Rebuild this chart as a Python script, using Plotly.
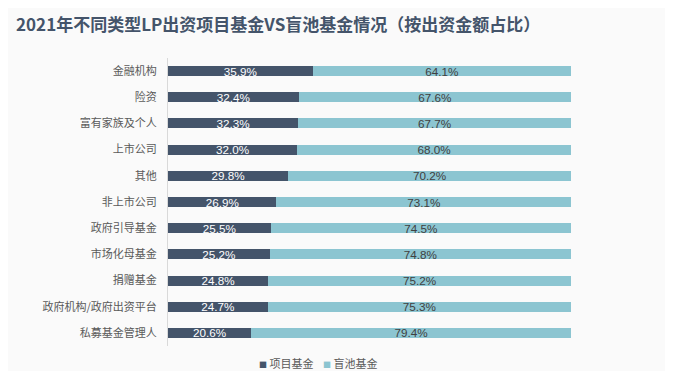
import plotly.graph_objects as go

categories = ["金融机构", "险资", "富有家族及个人", "上市公司", "其他", "非上市公司",
              "政府引导基金", "市场化母基金", "捐赠基金", "政府机构/政府出资平台", "私募基金管理人"]
project_fund = [35.9, 32.4, 32.3, 32.0, 29.8, 26.9, 25.5, 25.2, 24.8, 24.7, 20.6]
blind_pool = [64.1, 67.6, 67.7, 68.0, 70.2, 73.1, 74.5, 74.8, 75.2, 75.3, 79.4]
series_names = ["项目基金", "盲池基金"]
series_colors = ["#44546A", "#8CC5D1"]

FONT = "Noto Sans CJK SC"

fig = go.Figure()
fig.add_trace(go.Bar(
    y=categories, x=project_fund, orientation="h", name=series_names[0],
    marker=dict(color=series_colors[0], line=dict(width=0)),
    text=[f"{v:.1f}%" for v in project_fund], textposition="inside",
    insidetextanchor="middle", constraintext="none",
    textfont=dict(color="#FFFFFF", size=11.7, family="Arial"),
))
fig.add_trace(go.Bar(
    y=categories, x=blind_pool, orientation="h", name=series_names[1],
    marker=dict(color=series_colors[1], line=dict(width=0)),
    text=[f"{v:.1f}%" for v in blind_pool], textposition="inside",
    insidetextanchor="middle", constraintext="none",
    textfont=dict(color="#404040", size=11.7, family="Arial"),
))

# legend drawn as annotations to match compact reference legend
for name, color, xpos in zip(series_names, series_colors, [0.221, 0.38]):
    fig.add_annotation(
        xref="paper", yref="paper", x=xpos, y=-0.059, xanchor="left", yanchor="middle",
        showarrow=False,
        text=f"<span style='font-size:8px;color:{color}'>■</span> {name}",
        font=dict(family=FONT, size=11, color="#595959"),
    )

fig.update_layout(
    barmode="stack", bargap=0.62,
    width=673, height=371,
    paper_bgcolor="#FAFAFA", plot_bgcolor="#FAFAFA",
    margin=dict(l=160, r=110, t=50, b=33),
    title=dict(text="<b>2021年不同类型LP出资项目基金VS盲池基金情况（按出资金额占比）</b>",
               x=0.012, xanchor="left", y=0.954, yanchor="middle",
               font=dict(family=FONT, size=17, color="#44546A")),
    xaxis=dict(range=[0, 100], visible=False, showgrid=False, fixedrange=True),
    yaxis=dict(autorange="reversed", showgrid=False, showline=True, linecolor="#D9D9D9",
               linewidth=1, ticks="", ticklabelstandoff=8,
               tickfont=dict(family=FONT, size=11, color="#595959")),
    showlegend=False,
    uniformtext=dict(mode=False),
)

fig.write_html("out.html")
